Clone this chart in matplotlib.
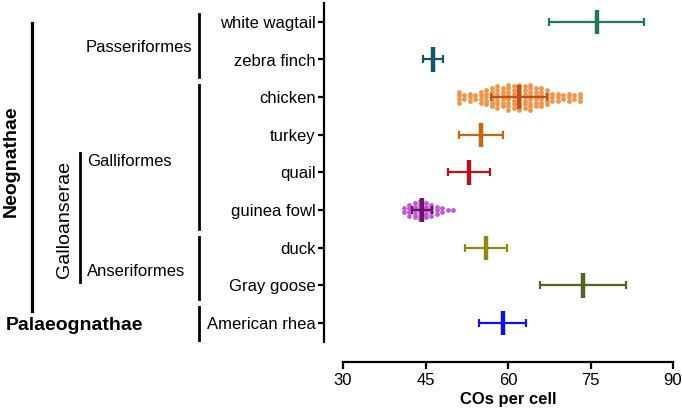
import numpy as np
import matplotlib
matplotlib.use("Agg")
import matplotlib.pyplot as plt
from matplotlib.lines import Line2D

plt.rcParams['font.family'] = ['Liberation Sans', 'DejaVu Sans']

# DATA
species = ['white wagtail', 'zebra finch', 'chicken', 'turkey', 'quail',
           'guinea fowl', 'duck', 'Gray goose', 'American rhea']
means = [76.1, 46.4, 62.0, 55.0, 52.9, 44.3, 56.0, 73.7, 59.0]
sds = [8.6, 1.8, 5.1, 4.0, 3.8, 1.8, 3.8, 7.8, 4.2]
colors = ['#1e7a55', '#0f5868', '#c0501e', '#c8660a', '#b5121b',
          '#6e1464', '#8c8c10', '#4f6420', '#1010e8']

chicken_vals = ([51]*4 + [52]*2 + [53]*3 + [54]*2 + [55]*4 + [56]*5 + [57]*6 +
                [58]*7 + [59]*6 + [60]*8 + [61]*7 + [62]*8 + [63]*7 + [64]*8 +
                [65]*6 + [66]*6 + [67]*5 + [68]*3 + [69]*3 + [70]*2 + [71]*3 +
                [72]*2 + [73]*3)
guinea_vals = ([41]*2 + [42]*4 + [43]*5 + [44]*6 + [45]*5 + [46]*4 + [47]*3 +
               [48]*2 + [49]*1 + [50]*1)

xticks = [30, 45, 60, 75, 90]

W, H = 682, 413


def fx(x):
    return x / W


def fy(y):
    return 1 - y / H


def swarm(vals, ypos, step=0.095):
    vals = np.array(vals, dtype=float)
    ys = np.zeros_like(vals)
    for v in np.unique(vals):
        idx = np.where(vals == v)[0]
        n = len(idx)
        ys[idx] = ypos + (np.arange(n) - (n - 1) / 2) * step
    return vals, ys


fig = plt.figure(figsize=(6.82, 4.13), dpi=100)
ax = fig.add_axes([fx(343), fy(342), fx(673) - fx(343), fy(3) - fy(342)])

ypos = np.arange(len(species))

# scatter of individual cells
xv, yv = swarm(chicken_vals, species.index('chicken'))
ax.scatter(xv, yv, s=12, color='#f0954a', linewidths=0, zorder=2)
xv, yv = swarm(guinea_vals, species.index('guinea fowl'))
ax.scatter(xv, yv, s=12, color='#c25ad8', linewidths=0, zorder=2)

# mean +/- SD
for i, (m, s, c) in enumerate(zip(means, sds, colors)):
    ax.errorbar(m, i, xerr=s, fmt='none', ecolor=c, elinewidth=1.6,
                capsize=3, capthick=1.6, zorder=3)
    ax.plot([m, m], [i - 0.32, i + 0.32], color=c, lw=3.2,
            solid_capstyle='butt', zorder=4)

ax.set_xlim(30, 90)
ax.set_ylim(8.5, -0.5)
ax.set_xticks(xticks)
ax.set_xticklabels([str(t) for t in xticks])
ax.set_yticks(ypos)
ax.set_yticklabels(species)
ax.set_xlabel('COs per cell', fontsize=12, fontweight='bold', labelpad=3)

for sp in ['top', 'right']:
    ax.spines[sp].set_visible(False)
ax.spines['left'].set_position(('outward', 13.7))
ax.spines['bottom'].set_position(('outward', 14.4))
ax.spines['left'].set_linewidth(1.6)
ax.spines['bottom'].set_linewidth(1.6)
ax.tick_params(axis='x', length=5, width=1.6, pad=3, labelsize=12)
ax.tick_params(axis='y', length=4, width=1.6, pad=2, labelsize=12)

# taxonomy annotations on the left
def vline(x, y0, y1, lw=2.0):
    fig.add_artist(Line2D([fx(x), fx(x)], [fy(y0), fy(y1)],
                          transform=fig.transFigure, color='black', lw=lw))


vline(32, 23, 311, lw=2.3)
vline(80, 153, 282, lw=2.0)
vline(199, 14, 77)
vline(199, 85, 229)
vline(199, 237, 299)
vline(199, 307, 340)

fig.text(fx(11), fy(161), 'Neognathae', rotation=90, fontsize=14,
         fontweight='bold', ha='center', va='center')
fig.text(fx(6), fy(326), 'Palaeognathae', fontsize=14, fontweight='bold',
         ha='left', va='center')
fig.text(fx(64), fy(219), 'Galloanserae', rotation=90, fontsize=14,
         ha='center', va='center')
fig.text(fx(87), fy(162), 'Galliformes', fontsize=12, ha='left', va='center')
fig.text(fx(87), fy(271), 'Anseriformes', fontsize=12, ha='left', va='center')
fig.text(fx(86), fy(47), 'Passeriformes', fontsize=12, ha='left', va='center')

fig.savefig('out.png', dpi=100)
